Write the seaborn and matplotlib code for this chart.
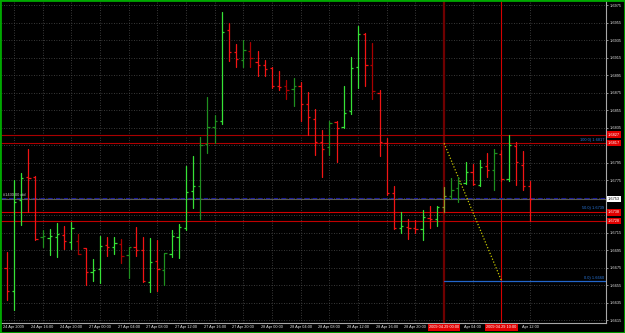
import numpy as np
import pandas as pd
import matplotlib
matplotlib.use("Agg")
import matplotlib.pyplot as plt
import matplotlib.transforms as mtransforms
from matplotlib.patches import Rectangle
import seaborn as sns

# ---------------- data (GBPUSD H1, 24-29 Apr 2009) ----------------
opens = [1.6674, 1.6648, 1.6752, 1.6778, 1.6779, 1.6710, 1.6709, 1.6710, 1.6712, 1.6704,
         1.6705, 1.6697, 1.6670, 1.6673, 1.6701, 1.6698, 1.6702, 1.6689, 1.6699, 1.6695,
         1.6659, 1.6682, 1.6672, 1.6691, 1.6710, 1.6720, 1.6763, 1.6768, 1.6816, 1.6836,
         1.6842, 1.6946, 1.6921, 1.6912, 1.6923, 1.6910, 1.6906, 1.6903, 1.6882, 1.6882,
         1.6879, 1.6882, 1.6862, 1.6845, 1.6818, 1.6813, 1.6841, 1.6836, 1.6854, 1.6904,
         1.6942, 1.6906, 1.6875, 1.6817, 1.6760, 1.6720, 1.6721, 1.6720, 1.6719, 1.6732,
         1.6730, 1.6744, 1.6757, 1.6766, 1.6772, 1.6784, 1.6769, 1.6791, 1.6786, 1.6805,
         1.6776, 1.6814, 1.6792, 1.6768]
highs = [1.6693, 1.6775, 1.6783, 1.6810, 1.6780, 1.6718, 1.6719, 1.6726, 1.6722, 1.6727,
         1.6713, 1.6697, 1.6685, 1.6711, 1.6710, 1.6710, 1.6708, 1.6699, 1.6721, 1.6710,
         1.6709, 1.6706, 1.6692, 1.6718, 1.6725, 1.6791, 1.6803, 1.6824, 1.6870, 1.6849,
         1.6967, 1.6954, 1.6931, 1.6935, 1.6933, 1.6922, 1.6912, 1.6904, 1.6900, 1.6889,
         1.6892, 1.6887, 1.6876, 1.6856, 1.6832, 1.6842, 1.6842, 1.6882, 1.6916, 1.6951,
         1.6943, 1.6932, 1.6878, 1.6823, 1.6768, 1.6738, 1.6730, 1.6729, 1.6741, 1.6745,
         1.6745, 1.6767, 1.6777, 1.6779, 1.6796, 1.6793, 1.6798, 1.6806, 1.6810, 1.6809,
         1.6826, 1.6819, 1.6808, 1.6774]
lows = [1.6638, 1.6626, 1.6724, 1.6739, 1.6707, 1.6699, 1.6689, 1.6687, 1.6696, 1.6696,
        1.6690, 1.6655, 1.6660, 1.6657, 1.6688, 1.6690, 1.6680, 1.6663, 1.6688, 1.6659,
        1.6647, 1.6648, 1.6655, 1.6687, 1.6686, 1.6718, 1.6743, 1.6730, 1.6806, 1.6817,
        1.6839, 1.6911, 1.6904, 1.6904, 1.6904, 1.6894, 1.6894, 1.6880, 1.6878, 1.6868,
        1.6860, 1.6842, 1.6826, 1.6804, 1.6779, 1.6804, 1.6796, 1.6835, 1.6850, 1.6880,
        1.6883, 1.6868, 1.6802, 1.6758, 1.6719, 1.6715, 1.6708, 1.6715, 1.6706, 1.6720,
        1.6723, 1.6738, 1.6753, 1.6750, 1.6771, 1.6769, 1.6768, 1.6779, 1.6764, 1.6774,
        1.6774, 1.6769, 1.6764, 1.6728]
closes = [1.6648, 1.6750, 1.6777, 1.6777, 1.6708, 1.6711, 1.6711, 1.6713, 1.6705, 1.6720,
          1.6690, 1.6670, 1.6672, 1.6700, 1.6699, 1.6703, 1.6688, 1.6698, 1.6695, 1.6660,
          1.6681, 1.6673, 1.6692, 1.6711, 1.6721, 1.6761, 1.6768, 1.6815, 1.6836, 1.6842,
          1.6944, 1.6921, 1.6913, 1.6924, 1.6914, 1.6906, 1.6902, 1.6883, 1.6881, 1.6878,
          1.6883, 1.6862, 1.6847, 1.6818, 1.6811, 1.6840, 1.6835, 1.6852, 1.6903, 1.6942,
          1.6907, 1.6877, 1.6819, 1.6760, 1.6720, 1.6722, 1.6720, 1.6719, 1.6733, 1.6731,
          1.6744, 1.6757, 1.6764, 1.6772, 1.6784, 1.6771, 1.6790, 1.6786, 1.6806, 1.6776,
          1.6815, 1.6796, 1.6768, 1.6753]
# bar shade state: L = light, D = dark, O = olive
shade = (list("LLLLLDLLLL") + list("DLLLLLDDLL") + list("LLDLLLLDDD") +
         list("LLLDDLLLLD") + list("DLLLLDLLLL") + list("LDLLLLLLLL") +
         list("LODDLLLLDL") + list("LLLL"))

# time axis labels (those hidden behind the red time boxes are blank / clipped)
time_idx = [1, 5, 9, 13, 17, 21, 25, 29, 33, 37, 41, 45, 49, 53, 57, 61, 65, 69, 73]
time_labels = ["24 Apr 2009", "24 Apr 16:00", "24 Apr 20:00", "27 Apr 00:00", "27 Apr 04:00",
               "27 Apr 08:00", "27 Apr 12:00", "27 Apr 16:00", "27 Apr 20:00", "28 Apr 00:00",
               "28 Apr 04:00", "28 Apr 08:00", "28 Apr 12:00", "28 Apr 16:00", "28 Apr 20:00",
               "", "Apr 04:00", "", "Apr 12:00"]
price_ticks = [1.6615, 1.6635, 1.6655, 1.6675, 1.6695, 1.6715, 1.6735, 1.6755, 1.6775,
               1.6795, 1.6815, 1.6835, 1.6855, 1.6875, 1.6895, 1.6915, 1.6935, 1.6955, 1.6975]
hidden_price_labels = [1.6735, 1.6755, 1.6815]

red_levels = [1.6827, 1.6817, 1.6738, 1.6728]
bid_price = 1.6755
last_price = 1.6753
fib_100, fib_50, fib_0 = 1.6817, 1.6739, 1.6660
fib_start_idx, fib_end_idx = 61, 69
vline_idx = [61, 69]
vline_labels = ["2009.04.29 00:00", "2009.04.29 10:00"]
hline_note_price = 1.6758
hline_note = "#1430.00 old"

# ---------------- styling ----------------
sns.set_theme(style="dark", rc={"axes.facecolor": "black", "figure.facecolor": "black",
                                "axes.edgecolor": "#a0a0a0"})
plt.rcParams["font.family"] = ["Liberation Sans", "DejaVu Sans"]

fig = plt.figure(figsize=(6.25, 3.33), dpi=100)
ax = fig.add_axes([1 / 625, 10 / 333, 605 / 625, 322 / 333])
ax.set_facecolor("black")

n = len(opens)
x = np.arange(n)
up = np.array(closes) >= np.array(opens)
cls = []
for i in range(n):
    if shade[i] == "O":
        cls.append("olive")
    else:
        cls.append(("up" if up[i] else "dn") + ("_d" if shade[i] == "D" else "_l"))
palette = {"up_l": "#36e236", "up_d": "#1f8f1f", "dn_l": "#f01414",
           "dn_d": "#a80000", "olive": "#8a9a26"}

# grid
ax.set_xticks(time_idx)
ax.set_yticks(price_ticks)
ax.grid(True, color="#4c4c4c", linestyle=(0, (1, 2)), linewidth=0.6)
ax.set_axisbelow(True)

# horizontal / vertical objects (background)
ax.axvline(vline_idx[0], color="#6e0000", lw=1.6, zorder=1)
ax.axvline(vline_idx[1], color="#d40000", lw=0.8, zorder=1)
for lvl, c in zip(red_levels, ["#a80000", "#b00000", "#d00000", "#c00000"]):
    ax.axhline(lvl, color=c, lw=0.8, zorder=1)
ax.axhline(bid_price, color="#1818a0", lw=0.8, ls=(0, (4, 3)), zorder=1)
ax.axhline(last_price, color="#5a5a5a", lw=0.8, zorder=1)
ax.plot([fib_start_idx, 90], [fib_0, fib_0], color="#2266cc", lw=0.9, zorder=1)
ax.plot([fib_start_idx, fib_end_idx], [fib_100, fib_0], color="#c8c800", lw=0.9,
        ls=(0, (1, 1.5)), zorder=2)

# OHLC bars: high-low via seaborn
df = pd.DataFrame({
    "x": np.repeat(x, 2),
    "price": np.column_stack([lows, highs]).ravel(),
    "bar": np.repeat(x, 2),
    "cls": np.repeat(cls, 2),
})
sns.lineplot(data=df, x="x", y="price", units="bar", estimator=None, hue="cls",
             palette=palette, legend=False, linewidth=0.9, sort=False, ax=ax, zorder=3)
cols = [palette[c] for c in cls]
ax.hlines(opens, x - 0.32, x, colors=cols, lw=0.9, zorder=3)
ax.hlines(closes, x, x + 0.32, colors=cols, lw=0.9, zorder=3)

ax.set_xlim(-0.795, 83.58)
ax.set_ylim(1.66116, 1.69796)
ax.set_xlabel("")
ax.set_ylabel("")

# axes appearance
for s in ["left", "top"]:
    ax.spines[s].set_visible(False)
for s in ["right", "bottom"]:
    ax.spines[s].set_color("#a8a8a8")
    ax.spines[s].set_linewidth(0.8)
ax.yaxis.tick_right()
ax.tick_params(axis="y", length=1.5, width=0.6, pad=0.8, labelsize=2.8,
               color="#a8a8a8", labelcolor="#e6e6e6")
ax.set_yticklabels(["" if p in hidden_price_labels else f"{p:.4f}" for p in price_ticks])
ax.tick_params(axis="x", length=0, pad=1.2, labelsize=2.8, labelcolor="#e6e6e6")
ax.set_xticklabels(time_labels)

# price boxes at right
tr_y = mtransforms.blended_transform_factory(ax.transAxes, ax.transData)
for lvl in red_levels:
    ax.text(1.003, lvl, f"{lvl:.4f}", transform=tr_y, ha="left", va="center",
            fontsize=2.8, color="white", zorder=6, clip_on=False,
            bbox=dict(boxstyle="square,pad=0.3", fc="#e00000", ec="none"))
ax.text(1.003, last_price, f"{last_price:.4f}", transform=tr_y, ha="left", va="center",
        fontsize=2.8, color="black", zorder=6, clip_on=False,
        bbox=dict(boxstyle="square,pad=0.3", fc="white", ec="none"))

# fibo labels
for lvl, pct in [(fib_100, "100.0"), (fib_50, "50.0"), (fib_0, "0.0")]:
    ax.text(0.997, lvl + 0.00012, f"{pct}) {lvl:.4f}", transform=tr_y, ha="right",
            va="bottom", fontsize=2.8, color="#2a7ae0", zorder=5)

# note on left
ax.text(0.003, hline_note_price, hline_note, transform=tr_y, ha="left", va="center",
        fontsize=2.8, color="#d0d0d0", zorder=5)

# time boxes at bottom
tr_x = mtransforms.blended_transform_factory(ax.transData, ax.transAxes)
for xi, lab in zip(vline_idx, vline_labels):
    ax.text(xi, -0.0135, lab, transform=tr_x, ha="center", va="center", fontsize=2.8,
            color="white", zorder=6, clip_on=False,
            bbox=dict(boxstyle="square,pad=0.3", fc="#e00000", ec="none"))

# window border
fig.add_artist(Rectangle((0, 0), 1, 1, transform=fig.transFigure, fill=False,
                         ec="#00a800", lw=2.0))

fig.savefig("out.png", dpi=100, facecolor="black")
